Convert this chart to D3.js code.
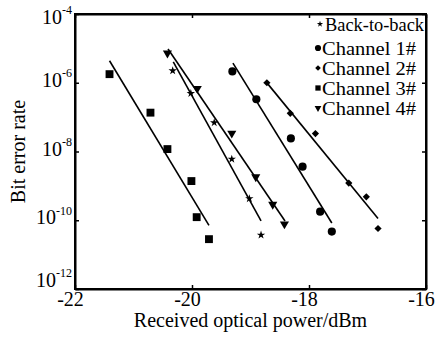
<!DOCTYPE html>
<html>
<head>
<meta charset="utf-8">
<script src="https://cdn.jsdelivr.net/npm/d3@7"></script>
<style>
  body { margin: 0; background: #fff; }
  text { font-family: "Liberation Serif", "Times New Roman", serif; fill: #000; }
</style>
</head>
<body>
<script>
// received power (dBm) and log10(BER)
const powerB2B = [-20.33, -20.02, -19.62, -19.32, -19.02, -18.82];
const expB2B   = [-5.65, -6.31, -7.16, -8.22, -9.37, -10.43];
const fitPowerB2B = [-20.32, -18.82];
const fitExpB2B   = [-5.39, -10.02];

const powerCh1 = [-19.31, -18.90, -18.31, -18.11, -17.81, -17.61];
const expCh1   = [-5.67, -6.48, -7.62, -8.44, -9.75, -10.33];
const fitPowerCh1 = [-19.30, -17.61];
const fitExpCh1   = [-5.43, -10.08];

const powerCh2 = [-18.72, -18.32, -17.89, -17.32, -17.02, -16.82];
const expCh2   = [-6.00, -6.89, -7.48, -8.92, -9.32, -10.24];
const fitPowerCh2 = [-18.74, -16.82];
const fitExpCh2   = [-5.96, -9.95];

const powerCh3 = [-21.41, -20.71, -20.42, -20.01, -19.92, -19.71];
const expCh3   = [-5.75, -6.87, -7.93, -8.86, -9.91, -10.55];
const fitPowerCh3 = [-21.41, -19.71];
const fitExpCh3   = [-5.36, -10.15];

const powerCh4 = [-20.42, -19.91, -19.32, -18.91, -18.62, -18.42];
const expCh4   = [-5.14, -6.17, -7.47, -8.74, -9.54, -10.11];
const fitPowerCh4 = [-20.41, -18.41];
const fitExpCh4   = [-5.02, -10.02];

const legendNames = ["Back-to-back", "Channel 1#", "Channel 2#", "Channel 3#", "Channel 4#"];
const xTicks = [-22, -20, -18, -16];
const yTickExps = [-4, -6, -8, -10, -12];

const series = [
  {name: legendNames[0], p: powerB2B, e: expB2B, fp: fitPowerB2B, fe: fitExpB2B, mark: "star"},
  {name: legendNames[1], p: powerCh1, e: expCh1, fp: fitPowerCh1, fe: fitExpCh1, mark: "circle"},
  {name: legendNames[2], p: powerCh2, e: expCh2, fp: fitPowerCh2, fe: fitExpCh2, mark: "diamond"},
  {name: legendNames[3], p: powerCh3, e: expCh3, fp: fitPowerCh3, fe: fitExpCh3, mark: "square"},
  {name: legendNames[4], p: powerCh4, e: expCh4, fp: fitPowerCh4, fe: fitExpCh4, mark: "triangle"}
];

// marker shapes, big for the data and small for the legend
const markers = {
  star:     {type: d3.symbolStar,     size: 22, leg: 12, rot: 0},
  circle:   {type: d3.symbolCircle,   size: 52, leg: 30, rot: 0},
  diamond:  {type: d3.symbolSquare,   size: 26, leg: 16, rot: 45},
  square:   {type: d3.symbolSquare,   size: 62, leg: 28, rot: 0},
  triangle: {type: d3.symbolTriangle, size: 36, leg: 20, rot: 180}
};

let margin = {top: 14, right: 12, bottom: 49, left: 75},
    width = 438 - margin.left - margin.right,
    height = 338 - margin.top - margin.bottom;

let svg = d3.select("body")
  .append("svg")
  .attr("width", 438)
  .attr("height", 338)
  .append("g")
  .attr("transform", "translate(" + margin.left + "," + margin.top + ")");

let x = d3.scaleLinear().domain([-22, -16]).range([0, width]);
let y = d3.scaleLog().domain([1e-12, 1e-4]).range([height, 0]);

// x axis: ticks pointing in, plain hyphen minus
let xAxis = svg.append("g")
  .attr("transform", "translate(0," + height + ")")
  .call(d3.axisBottom(x).tickValues(xTicks).tickSizeInner(-4).tickSizeOuter(0).tickPadding(3).tickFormat(d => String(d)));
xAxis.selectAll("text").attr("font-size", 20).attr("dx", -5);

svg.append("g")
  .call(d3.axisTop(x).tickValues(xTicks).tickSizeInner(-4).tickSizeOuter(0).tickFormat(""));

// y axis with 10^n labels, end labels pulled inside like the original
let yAxis = svg.append("g")
  .call(d3.axisLeft(y).tickValues(yTickExps.map(e => Math.pow(10, e))).tickSizeInner(-4).tickSizeOuter(0).tickFormat(""));
yAxis.selectAll(".tick").append("text")
  .attr("x", -3)
  .attr("y", d => {
    let e = Math.round(Math.log10(d));
    return e == -4 ? 6 : (e == -12 ? -6 : 0);
  })
  .attr("dy", "0.35em")
  .attr("text-anchor", "end")
  .each(function(d) {
    let t = d3.select(this);
    t.append("tspan").attr("font-size", 20).text("10");
    t.append("tspan").attr("font-size", 12).attr("dy", "-0.8em").text(Math.round(Math.log10(d)));
  });

svg.append("g")
  .attr("transform", "translate(" + width + ",0)")
  .call(d3.axisRight(y).tickValues(yTickExps.map(e => Math.pow(10, e))).tickSizeInner(-4).tickSizeOuter(0).tickFormat(""));

svg.selectAll(".domain").attr("stroke", "#000").attr("stroke-width", 2);
svg.selectAll(".tick line").attr("stroke", "#000").attr("stroke-width", 1.5);

// frame
svg.append("rect")
  .attr("width", width).attr("height", height)
  .attr("fill", "none").attr("stroke", "#000").attr("stroke-width", 2);

// fitted lines
let line = d3.line().x(d => x(d[0])).y(d => y(Math.pow(10, d[1])));
series.forEach(s => {
  svg.append("path")
    .datum(s.fp.map((p, i) => [p, s.fe[i]]))
    .attr("d", line)
    .attr("fill", "none")
    .attr("stroke", "#000")
    .attr("stroke-width", 1.6);
});

// measured points
series.forEach(s => {
  let m = markers[s.mark];
  svg.append("g")
    .selectAll("path")
    .data(s.p.map((p, i) => [p, s.e[i]]))
    .enter()
    .append("path")
    .attr("d", d3.symbol().type(m.type).size(m.size))
    .attr("transform", d => "translate(" + x(d[0]) + "," + y(Math.pow(10, d[1])) + ") rotate(" + m.rot + ")")
    .attr("fill", "#000");
});

// legend
let legend = svg.append("g").attr("transform", "translate(" + (width - 109) + ",0)");
series.forEach((s, i) => {
  let m = markers[s.mark];
  let yy = i == 0 ? 10 : 34 + (i - 1) * 20;
  legend.append("path")
    .attr("d", d3.symbol().type(m.type).size(m.leg))
    .attr("transform", "translate(" + (i == 0 ? 3 : 1) + "," + yy + ") rotate(" + m.rot + ")")
    .attr("fill", "#000");
  let t = legend.append("text")
    .attr("x", i == 0 ? 8 : 5)
    .attr("y", yy)
    .attr("dy", "0.35em")
    .attr("font-size", 19)
    .text(s.name);
  // the original's letters are a bit wider on the channel names, narrower on "Back-to-back"
  t.attr("textLength", i == 0 ? 99 : 94).attr("lengthAdjust", "spacingAndGlyphs");
});

// axis titles
svg.append("text")
  .attr("x", width / 2)
  .attr("y", height + 38)
  .attr("text-anchor", "middle")
  .attr("font-size", 20)
  .text("Received optical power/dBm");

svg.append("text")
  .attr("transform", "rotate(-90)")
  .attr("x", -height / 2)
  .attr("y", -57)
  .attr("dy", "0.35em")
  .attr("text-anchor", "middle")
  .attr("font-size", 20)
  .text("Bit error rate");
</script>
</body>
</html>
